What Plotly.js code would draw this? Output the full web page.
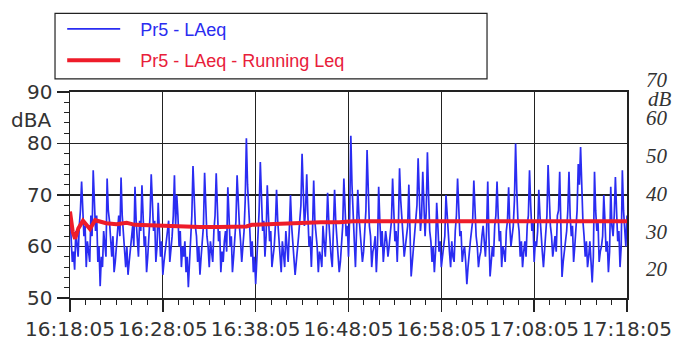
<!DOCTYPE html>
<html>
<head>
<meta charset="utf-8">
<script src="https://cdn.plot.ly/plotly-3.0.1.min.js"></script>
<style>html,body{margin:0;padding:0;background:#fff}#chart{width:674px;height:338px}</style>
</head>
<body>
<div id="chart"></div>
<script>
// ---- data ----
const startTime = '2024-01-01 16:18:05';
const endTime = '2024-01-01 17:18:05';
const sampleSeconds = 15;
// readings on the whole 15 s marks
const laeq = [
66, 57, 55.5, 60, 64, 72.6, 62, 56, 59, 66,
74.8, 63, 57, 52.3, 56, 61, 73.2, 65, 58, 55,
60, 66, 73.4, 62, 56, 54.5, 59, 64, 71.6, 61,
65, 71.9, 60, 55, 62, 74, 63, 57, 68.5, 58,
54.5, 59, 63, 57, 62, 73.8, 70, 60, 56, 58,
55, 52.1, 62, 75.6, 64, 57, 54.5, 61, 74.3, 62,
56, 58.5, 63, 74.2, 61, 55, 57, 63, 71.5, 60,
55, 61, 73.8, 64, 57, 63, 81, 66, 58, 55,
52.7, 62, 76.4, 63, 58, 71.9, 61, 56, 60, 71,
61, 55, 58, 63, 57, 70, 60, 54.5, 59, 65,
78, 64, 74, 60, 56, 72.8, 62, 55, 58, 64,
58, 70.4, 60, 56, 71, 61, 55, 60, 73.2, 62,
58, 81.5, 64, 56, 71, 62, 57, 63, 78.7, 64,
56, 60, 55, 71.6, 60, 57, 63, 58, 62, 73.2,
61, 57, 75.2, 64, 58, 62, 72, 54.2, 60, 65,
77.1, 63, 74.5, 62, 78.3, 63, 57, 55, 68.5, 59,
56, 60, 70, 61, 56, 58, 63, 73.2, 62, 57,
60, 52.7, 59, 63, 72.8, 62, 56, 59, 64, 58,
72.6, 54.2, 60, 64, 72.6, 61, 56, 59, 63, 71.5,
60, 64, 80, 65, 58, 56, 61, 64, 74.8, 63,
57, 60, 71, 61, 56, 63, 75.8, 64, 58, 62,
66, 74.5, 54.1, 59, 63, 74.5, 62, 57, 64, 76,
79.3, 65, 58, 56, 61, 53, 74.5, 63, 57, 60,
70, 59, 55, 71.6, 62, 73.5, 61, 56, 74.8, 62, 66
];
// readings half-way between the 15 s marks
const laeqMid = [
60, 59, 63, 58, 67, 66, 64, 61, 57, 62,
68, 66, 60, 58, 63, 58, 67, 61, 62, 57,
63, 62, 66, 59, 60, 57, 62, 60, 65, 58,
63, 64, 62, 58, 66, 67, 65, 60, 63, 61,
57, 61, 65, 59, 66, 64, 66, 63, 60, 61,
58, 57, 66, 68, 62, 60, 58, 64, 67, 60,
61, 57, 66, 65, 63, 59, 61, 59, 66, 62,
58, 65, 67, 61, 60, 69, 72, 63, 61, 58,
57, 67, 69, 65, 62, 66, 63, 58, 64, 65,
59, 61, 56, 60, 63, 64, 58, 57, 62, 68,
70, 67, 66, 62, 63, 65, 60, 59, 56, 61,
63, 65, 58, 62, 65, 59, 57, 64, 66, 64,
66, 72, 61, 63, 66, 60, 59, 67, 70, 62,
59, 62, 60, 65, 63, 60, 61, 60, 65, 67,
63, 64, 69, 62, 60, 64, 63, 57, 63, 68,
69, 66, 68, 67, 70, 61, 60, 59, 64, 61,
58, 62, 66, 59, 61, 57, 66, 67, 63, 59,
57, 56, 61, 65, 66, 60, 58, 62, 61, 63,
62, 57, 58, 66, 66, 63, 60, 57, 65, 64,
62, 69, 71, 63, 61, 59, 58, 66, 68, 65,
61, 63, 66, 59, 60, 66, 69, 62, 60, 59,
67, 64, 57, 61, 67, 66, 64, 60, 67, 72,
70, 62, 61, 58, 57, 58, 67, 65, 59, 62,
65, 61, 59, 64, 66, 67, 63, 60, 67, 60
];
const runMinutes = [0, 0.3, 0.55, 0.9, 1.4, 1.8, 2.15, 2.7, 3.3, 3.9, 5, 6.1, 7, 8.5, 10, 12, 14, 16, 18, 19, 19.6, 21, 23, 25, 27, 29, 30.5, 33, 36, 40, 45, 50, 55, 60];
const runLeq = [66.8, 62.8, 61.5, 63.5, 65, 64.2, 63.4, 65.1, 64.7, 64.5, 64.3, 64.6, 64.2, 64.1, 64, 63.9, 63.8, 63.8, 63.8, 63.9, 64.2, 64.3, 64.5, 64.6, 64.7, 64.7, 64.9, 64.9, 64.9, 64.9, 64.9, 64.9, 64.9, 64.9];
const leftTicks = [50, 60, 70, 80, 90];
const rightTicks = [20, 30, 40, 50, 60, 70];
const seriesNames = ['Pr5 - LAeq', 'Pr5 - LAeq - Running Leq'];
const leftTitle = 'dBA';
const rightTitle = 'dB';

// ---- build traces ----
const t0 = new Date(startTime.replace(' ', 'T') + 'Z').getTime();
const blueX = [], blueY = [];
laeq.forEach((v, i) => {
  blueX.push(t0 + i * sampleSeconds * 1000); blueY.push(v);
  if (i < laeqMid.length) { blueX.push(t0 + (i + 0.5) * sampleSeconds * 1000); blueY.push(laeqMid[i]); }
});
const runX = runMinutes.map(m => t0 + Math.round(m * 60000));

const BLUE = '#2a2cf2';
const RED = '#ee1c2a';
const tickFont = {family: 'DejaVu Sans', size: 20, color: '#333'};
const pad = '&nbsp;&nbsp;&nbsp;';

const traces = [
  {x: blueX, y: blueY, type: 'scatter', mode: 'lines', line: {color: BLUE, width: 1.7},
   name: pad + '<span style="color:#2a2cf0">' + seriesNames[0] + '</span>', legendgroup: 'a'},
  {x: runX, y: runLeq, type: 'scatter', mode: 'lines', line: {color: RED, width: 4},
   name: pad + '<span style="color:#e8203a">' + seriesNames[1] + '</span>', legendgroup: 'b'}
];

const layout = {
  width: 674, height: 338,
  margin: {l: 70, r: 47, t: 70, b: 40},
  paper_bgcolor: '#fff', plot_bgcolor: 'rgba(0,0,0,0)',
  showlegend: true,
  legend: {x: -0.014, xanchor: 'left', y: 1.26, yanchor: 'top', bgcolor: 'rgba(0,0,0,0)',
    borderwidth: 0, font: {family: 'Liberation Sans', size: 18}, itemwidth: 53, tracegroupgap: 5},
  xaxis: {
    type: 'date', range: [startTime, endTime], domain: [0, 1],
    tick0: startTime, dtick: 600000, tickformat: '%H:%M:%S', tickangle: 0,
    ticks: 'outside', ticklen: 12, tickwidth: 1.5, tickcolor: '#222',
    showgrid: true, gridcolor: '#222', gridwidth: 1.2,
    showline: true, mirror: true, linecolor: '#222', linewidth: 1.5,
    zeroline: false, tickfont: tickFont,
    minor: {dtick: 100000, tick0: startTime, ticks: 'outside', ticklen: 5, tickwidth: 1, tickcolor: '#222', showgrid: false}
  },
  yaxis: {
    range: [50, 90], domain: [0, 207 / 228],
    tickvals: leftTicks,
    ticks: 'outside', ticklen: 12, tickwidth: 1.5, tickcolor: '#222',
    showgrid: true, gridcolor: '#222', gridwidth: 1.2,
    showline: true, mirror: true, linecolor: '#222', linewidth: 1.5,
    zeroline: false, tickfont: tickFont,
    minor: {dtick: 2, ticks: 'outside', ticklen: 5, tickwidth: 1, tickcolor: '#222', showgrid: false}
  },
  xaxis2: {domain: [0, 1], anchor: 'y2', visible: false, range: [0, 1]},
  yaxis2: {
    anchor: 'x2', side: 'right', domain: [0, 1],
    range: [12.37, 72.37], tickvals: rightTicks, ticktext: rightTicks.map(String),
    showgrid: false, zeroline: false, showline: false, ticks: '',
    ticklabelstandoff: 18,
    tickfont: {family: 'Liberation Serif', size: 21, color: '#333', style: 'italic'}
  },
  shapes: [
    {type: 'rect', xref: 'paper', yref: 'paper', x0: -0.0269, x1: 0.7487, y0: 0.965, y1: 1.254,
     line: {color: '#222', width: 1.2}, fillcolor: 'rgba(0,0,0,0)'}
  ],
  annotations: [
    {text: leftTitle, xref: 'paper', yref: 'y', x: -0.07, y: 84.6, showarrow: false,
     xanchor: 'center', yanchor: 'middle', font: {family: 'DejaVu Sans', size: 20, color: '#333'}},
    {text: rightTitle, xref: 'paper', yref: 'y2', x: 1.0377, y: 64.9, showarrow: false,
     xanchor: 'left', yanchor: 'middle', xshift: -2,
     font: {family: 'Liberation Serif', size: 21, color: '#333', style: 'italic'}}
  ]
};

Plotly.newPlot('chart', traces, layout, {staticPlot: true, displayModeBar: false});
</script>
</body>
</html>
